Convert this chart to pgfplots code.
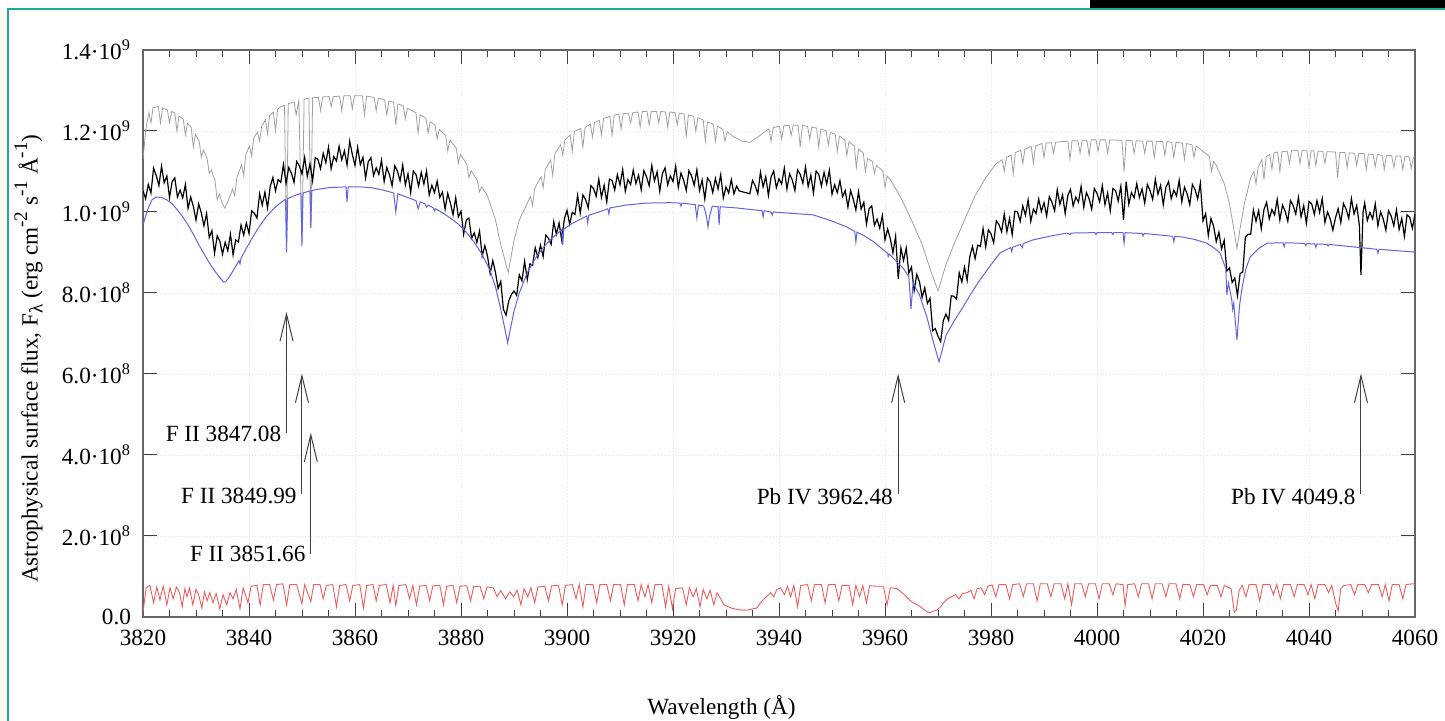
\documentclass[border=0pt]{standalone}
\usepackage{pgfplots}
\pgfplotsset{compat=1.18}
\usepackage{fontspec}
\setmainfont{Liberation Serif}
\usetikzlibrary{arrows.meta}
\definecolor{teal1}{RGB}{32,168,150}
\definecolor{cream}{RGB}{253,248,238}
\definecolor{modgray}{RGB}{160,160,160}
\definecolor{modblue}{RGB}{100,100,225}
\definecolor{modred}{RGB}{235,95,95}
\newcommand{\sups}[1]{\raisebox{0.45em}{\fontsize{9.6}{10}\selectfont #1}}
\newcommand{\subs}[1]{\raisebox{-0.22em}{\fontsize{9.6}{10}\selectfont #1}}
\begin{document}
\begin{tikzpicture}[font=\fontsize{11.6}{13.9}\selectfont]
\useasboundingbox (0,0) rectangle (722.5pt,360.5pt);
\fill[white] (0,0) rectangle (722.5pt,360.5pt);
\fill[cream] (0,0) rectangle (3.75pt,356pt);
\fill[black] (545pt,356.5pt) rectangle (722.5pt,360.5pt);
\draw[teal1, line width=0.8pt] (4pt,0) -- (4pt,356pt) -- (722.5pt,356pt);
\begin{axis}[
  at={(71.5pt,52pt)}, anchor=south west,
  width=636pt, height=283.5pt, scale only axis,
  xmin=3820, xmax=4060, ymin=0, ymax=14,
  xtick={3820,3840,...,4060},
  xticklabels={3820,3840,3860,3880,3900,3920,3940,3960,3980,4000,4020,4040,4060},
  minor x tick num=3,
  ytick={0,2,...,14},
  yticklabels={0.0,2.0·10\textsuperscript{8},4.0·10\textsuperscript{8},6.0·10\textsuperscript{8},8.0·10\textsuperscript{8},1.0·10\textsuperscript{9},1.2·10\textsuperscript{9},1.4·10\textsuperscript{9}},
  major tick length=7pt, minor tick length=3.5pt,
  tick style={black!75, line width=0.5pt},
  axis line style={black!60, line width=0.6pt},
  grid=major, major grid style={densely dotted, black!10},
  xticklabel style={yshift=-3pt},
  yticklabel style={xshift=-2.5pt},
  xlabel={Wavelength (Å)},
  xlabel style={at={(axis description cs:0.4548,-0.1728)}, anchor=base},
  ylabel={Astrophysical surface flux, F\subs{λ} (erg cm\sups{-2} s\sups{-1} Å\sups{-1})},
  ylabel style={at={(axis description cs:-0.0829,0.0476)}, anchor=base west},
  clip=true,
]
% red
\addplot[modred, line width=0.45pt] coordinates {
(3820,0.12)(3820.6,0.72)(3821.3,0.78)(3822.0,0.35)(3822.6,0.74)(3823.2,0.42)(3823.8,0.76)(3824.5,0.3)(3825.1,0.72)(3825.7,0.45)(3826.3,0.74)(3826.9,0.6)(3827.4,0.25)(3827.9,0.7)(3828.3,0.5)(3828.8,0.72)(3829.4,0.3)(3830.0,0.68)(3830.5,0.55)(3831.1,0.22)(3831.6,0.62)(3832.1,0.4)(3832.6,0.6)(3833.2,0.35)(3833.8,0.58)(3834.5,0.2)(3835.1,0.55)(3835.8,0.3)(3836.4,0.6)(3837.0,0.45)(3837.6,0.68)(3838.3,0.2)(3838.9,0.72)(3839.8,0.35)(3840.4,0.76)(3841.5,0.78)(3842.1,0.3)(3842.7,0.8)(3843.9,0.8)(3844.6,0.42)(3845.2,0.8)(3846.4,0.82)(3847.1,0.3)(3847.7,0.8)(3849.0,0.8)(3849.99,0.32)(3850.5,0.8)(3851.66,0.38)(3852.2,0.8)(3853.4,0.8)(3854.0,0.45)(3854.6,0.78)(3855.8,0.8)(3856.5,0.25)(3857.1,0.78)(3858.3,0.8)(3859.0,0.4)(3859.6,0.78)(3860.9,0.8)(3861.6,0.22)(3862.2,0.78)(3863.4,0.8)(3864.0,0.4)(3864.6,0.78)(3865.9,0.8)(3866.6,0.35)(3867.2,0.78)(3867.7,0.28)(3868.3,0.78)(3869.6,0.8)(3870.3,0.45)(3870.9,0.78)(3871.6,0.3)(3872.2,0.76)(3873.4,0.78)(3874.1,0.4)(3874.7,0.77)(3876.0,0.78)(3876.7,0.3)(3877.3,0.76)(3878.5,0.78)(3879.2,0.35)(3879.8,0.76)(3881.1,0.77)(3881.8,0.4)(3882.4,0.75)(3883.6,0.76)(3884.3,0.45)(3884.9,0.74)(3886.1,0.72)(3886.8,0.5)(3887.5,0.65)(3888.4,0.45)(3889.2,0.62)(3889.9,0.5)(3890.6,0.66)(3891.3,0.3)(3891.9,0.7)(3892.6,0.5)(3893.2,0.72)(3893.9,0.35)(3894.5,0.74)(3895.8,0.76)(3896.5,0.4)(3897.1,0.77)(3898.4,0.78)(3899.1,0.3)(3899.7,0.78)(3901.0,0.8)(3901.7,0.45)(3902.3,0.8)(3903.0,0.25)(3903.6,0.8)(3904.9,0.8)(3905.6,0.35)(3906.2,0.8)(3907.5,0.8)(3908.2,0.4)(3908.8,0.8)(3910.1,0.8)(3910.8,0.3)(3911.4,0.8)(3912.7,0.8)(3913.4,0.4)(3914.0,0.8)(3914.7,0.5)(3915.3,0.8)(3916.0,0.35)(3916.6,0.8)(3917.9,0.8)(3918.6,0.25)(3919.2,0.76)(3919.9,0.2)(3920.5,0.7)(3921.8,0.72)(3922.5,0.3)(3923.1,0.72)(3923.8,0.5)(3924.4,0.7)(3925.1,0.25)(3925.7,0.68)(3926.4,0.45)(3927.0,0.66)(3927.7,0.3)(3928.3,0.6)(3929.0,0.45)(3929.6,0.3)(3930.3,0.26)(3931.0,0.22)(3932.0,0.19)(3933.0,0.17)(3934.0,0.17)(3935.0,0.2)(3935.8,0.22)(3936.5,0.35)(3937.2,0.45)(3937.8,0.52)(3938.4,0.6)(3939.0,0.5)(3939.6,0.68)(3940.3,0.72)(3941.0,0.55)(3941.6,0.76)(3942.2,0.5)(3942.8,0.78)(3943.5,0.25)(3944.1,0.78)(3945.4,0.8)(3946.1,0.4)(3946.7,0.8)(3948.0,0.8)(3948.7,0.35)(3949.3,0.8)(3950.6,0.8)(3951.3,0.4)(3951.9,0.78)(3953.2,0.78)(3953.9,0.3)(3954.5,0.78)(3955.2,0.5)(3955.8,0.78)(3956.5,0.35)(3957.1,0.77)(3958.4,0.76)(3959.7,0.76)(3960.4,0.3)(3961.0,0.72)(3962.3,0.7)(3963.0,0.62)(3963.7,0.55)(3964.4,0.45)(3965.3,0.35)(3966.2,0.3)(3967.0,0.22)(3967.8,0.14)(3968.4,0.1)(3969.0,0.14)(3969.8,0.17)(3970.5,0.25)(3971.0,0.35)(3971.7,0.44)(3972.5,0.5)(3973.3,0.55)(3974.0,0.45)(3974.6,0.58)(3975.5,0.6)(3976.2,0.66)(3976.8,0.45)(3977.4,0.7)(3978.1,0.72)(3978.8,0.55)(3979.4,0.76)(3980.2,0.79)(3980.9,0.5)(3981.5,0.8)(3982.8,0.8)(3983.5,0.45)(3984.1,0.8)(3985.4,0.82)(3986.1,0.5)(3986.7,0.82)(3988.0,0.82)(3988.7,0.4)(3989.3,0.82)(3990.6,0.82)(3991.3,0.5)(3991.9,0.82)(3993.2,0.82)(3993.9,0.45)(3994.5,0.82)(3995.2,0.3)(3995.8,0.82)(3997.1,0.82)(3997.8,0.5)(3998.4,0.82)(3999.7,0.82)(4000.4,0.45)(4001.0,0.82)(4002.3,0.82)(4003.0,0.55)(4003.6,0.82)(4004.9,0.8)(4005.3,0.28)(4005.8,0.8)(4007.1,0.82)(4007.8,0.5)(4008.4,0.82)(4009.7,0.82)(4010.4,0.45)(4011.0,0.82)(4012.3,0.82)(4013.0,0.5)(4013.6,0.82)(4014.9,0.82)(4015.6,0.45)(4016.2,0.8)(4017.5,0.8)(4018.2,0.5)(4018.8,0.8)(4020.1,0.8)(4020.8,0.55)(4021.4,0.78)(4022.7,0.78)(4023.4,0.5)(4024.0,0.78)(4025.3,0.7)(4025.9,0.12)(4026.3,0.18)(4026.8,0.65)(4027.4,0.78)(4028.1,0.5)(4028.7,0.8)(4030.0,0.8)(4030.7,0.4)(4031.3,0.8)(4032.6,0.8)(4033.3,0.55)(4033.9,0.8)(4034.6,0.45)(4035.2,0.8)(4036.5,0.8)(4037.2,0.5)(4037.8,0.8)(4039.1,0.8)(4039.8,0.55)(4040.4,0.8)(4041.1,0.45)(4041.7,0.8)(4043.0,0.8)(4043.7,0.6)(4044.3,0.78)(4045.0,0.35)(4045.5,0.15)(4046.0,0.7)(4046.6,0.78)(4047.9,0.8)(4048.6,0.55)(4049.2,0.8)(4050.5,0.8)(4051.2,0.6)(4051.8,0.8)(4053.1,0.8)(4053.8,0.5)(4054.4,0.8)(4055.1,0.4)(4055.7,0.8)(4057.0,0.8)(4057.7,0.45)(4058.3,0.8)(4059.6,0.82)(4060,0.8)
};
% gray model
\addplot[modgray, line width=0.4pt] coordinates {
(3820,11.3)(3820.5,12.0)(3821.1,12.45)(3821.5,12.2)(3821.9,12.58)(3822.9,12.6)(3823.3,12.2)(3823.7,12.57)(3824.6,12.52)(3825.0,12.2)(3825.4,12.48)(3826.0,12.45)(3826.4,12.0)(3826.8,12.37)(3827.6,12.29)(3828.0,11.9)(3828.4,12.19)(3829.1,12.08)(3829.5,11.6)(3829.9,11.92)(3830.6,11.75)(3831.0,11.35)(3831.4,11.53)(3832.1,11.32)(3832.5,10.95)(3832.9,11.04)(3833.6,10.76)(3834.0,10.3)(3834.4,10.44)(3835.0,10.2)(3835.4,10.1)(3836.0,10.25)(3836.9,10.57)(3837.3,10.4)(3837.7,10.85)(3838.6,11.16)(3839.0,10.9)(3839.4,11.42)(3840.1,11.63)(3840.5,11.38)(3840.9,11.83)(3841.6,11.97)(3842.0,11.75)(3842.4,12.13)(3843.1,12.27)(3843.5,11.92)(3843.9,12.39)(3844.6,12.46)(3845.0,12.0)(3845.4,12.54)(3846.0,12.6)(3846.7,12.63)(3847.08,9.1)(3847.4,12.67)(3848.5,12.72)(3848.9,12.4)(3849.4,12.75)(3849.99,9.25)(3850.4,12.79)(3851.3,12.81)(3851.66,9.6)(3852.0,12.82)(3853.1,12.83)(3853.5,12.5)(3853.9,12.84)(3855.1,12.85)(3855.5,12.6)(3855.9,12.85)(3857.1,12.86)(3857.5,12.5)(3857.9,12.87)(3859.1,12.87)(3859.5,12.55)(3859.9,12.87)(3861.4,12.87)(3861.8,12.4)(3862.2,12.86)(3863.6,12.83)(3864.0,12.5)(3864.4,12.81)(3865.6,12.77)(3866.0,12.4)(3866.4,12.74)(3867.3,12.71)(3867.7,12.15)(3868.1,12.67)(3869.1,12.62)(3869.5,12.3)(3869.9,12.56)(3871.5,12.45)(3871.9,11.95)(3872.3,12.4)(3873.4,12.31)(3873.8,11.95)(3874.2,12.23)(3875.1,12.14)(3875.5,11.8)(3875.9,12.04)(3877.1,11.89)(3877.5,11.5)(3877.9,11.78)(3879.1,11.58)(3879.5,11.2)(3879.9,11.42)(3881.1,11.18)(3881.5,10.85)(3881.9,11.02)(3883.1,10.78)(3883.5,10.5)(3883.9,10.62)(3885,10.4)(3886.5,9.8)(3887.5,9.2)(3888.9,8.5)(3890,9.3)(3891,9.8)(3892,10.08)(3893.1,10.38)(3893.5,10.15)(3893.9,10.58)(3895.1,10.87)(3895.5,10.6)(3895.9,11.05)(3896.9,11.28)(3897.3,10.9)(3897.7,11.44)(3898.8,11.66)(3899.2,11.4)(3899.6,11.78)(3900.6,11.9)(3901.0,11.5)(3901.4,11.99)(3902.6,12.06)(3903.0,11.6)(3903.4,12.09)(3904.4,12.17)(3904.8,11.85)(3905.2,12.21)(3906.1,12.26)(3906.5,11.9)(3906.9,12.31)(3908.1,12.36)(3908.5,11.9)(3908.9,12.39)(3909.8,12.42)(3910.2,12.05)(3910.6,12.43)(3911.6,12.44)(3912.0,12.2)(3912.4,12.45)(3913.4,12.47)(3913.8,12.1)(3914.2,12.48)(3915.1,12.48)(3915.5,12.15)(3915.9,12.48)(3916.9,12.48)(3917.3,12.2)(3917.7,12.48)(3918.6,12.47)(3919.0,12.1)(3919.4,12.47)(3920.4,12.45)(3920.8,12.15)(3921.2,12.44)(3922.1,12.42)(3922.5,11.85)(3922.9,12.4)(3923.9,12.36)(3924.3,12.0)(3924.7,12.33)(3925.7,12.27)(3926.1,11.75)(3926.5,12.22)(3927.6,12.17)(3928.0,11.75)(3928.4,12.12)(3929.4,12.04)(3929.8,11.75)(3930.2,11.98)(3931.5,11.85)(3933,11.75)(3934.5,11.72)(3936,11.85)(3937.5,12.0)(3938.1,12.05)(3938.5,11.75)(3938.9,12.08)(3940.1,12.12)(3940.5,11.8)(3940.9,12.13)(3941.9,12.14)(3942.3,11.9)(3942.7,12.15)(3943.6,12.14)(3944.0,11.6)(3944.4,12.14)(3945.4,12.11)(3945.8,11.8)(3946.2,12.1)(3947.1,12.07)(3947.5,11.6)(3947.9,12.05)(3948.9,12.0)(3949.3,11.65)(3949.7,11.96)(3950.6,11.92)(3951.0,11.5)(3951.4,11.87)(3952.4,11.78)(3952.8,11.4)(3953.2,11.73)(3954.2,11.63)(3954.6,11.1)(3955.0,11.55)(3955.9,11.46)(3956.3,11.0)(3956.7,11.32)(3957.6,11.25)(3958.0,10.95)(3958.4,11.15)(3959.6,11.01)(3960.0,10.6)(3960.4,10.89)(3961,10.8)(3963,10.35)(3965,9.8)(3967,9.2)(3968.5,8.6)(3970,8.05)(3971.5,8.7)(3973,9.2)(3975,9.8)(3977,10.4)(3979,10.85)(3981,11.2)(3982.1,11.29)(3982.5,11.0)(3982.9,11.35)(3983.8,11.4)(3984.2,10.95)(3984.6,11.47)(3985.6,11.52)(3986.0,11.2)(3986.4,11.55)(3987.6,11.62)(3988.0,11.2)(3988.4,11.63)(3989.6,11.69)(3990.0,11.35)(3990.4,11.7)(3991.4,11.71)(3991.8,11.45)(3992.2,11.72)(3994.5,11.75)(3994.9,11.3)(3995.3,11.76)(3996.4,11.76)(3996.8,11.45)(3997.2,11.77)(3998.1,11.77)(3998.5,11.4)(3998.9,11.78)(3999.8,11.78)(4000.2,11.5)(4000.6,11.78)(4001.6,11.78)(4002.0,11.45)(4002.4,11.78)(4004.7,11.77)(4005.1,11.0)(4005.5,11.77)(4006.6,11.76)(4007.0,11.45)(4007.4,11.76)(4008.6,11.75)(4009.0,11.45)(4009.4,11.75)(4010.4,11.75)(4010.8,11.35)(4011.2,11.74)(4012.4,11.74)(4012.8,11.4)(4013.2,11.74)(4014.1,11.72)(4014.5,11.35)(4014.9,11.72)(4016.1,11.7)(4016.5,11.3)(4016.9,11.69)(4017.9,11.66)(4018.3,11.35)(4018.7,11.63)(4019,11.6)(4021.2,11.37)(4021.6,11.0)(4022.0,11.25)(4022.5,11.15)(4024,10.7)(4025,10.2)(4025.8,9.6)(4026.4,9.1)(4027,9.6)(4027.8,10.2)(4029,10.85)(4029.6,11.0)(4030.0,10.7)(4030.4,11.1)(4031.1,11.3)(4031.5,10.8)(4031.9,11.36)(4032.6,11.42)(4033.0,11.05)(4033.4,11.46)(4034.1,11.48)(4034.5,11.0)(4034.9,11.49)(4035.9,11.5)(4036.3,11.2)(4036.7,11.51)(4037.9,11.52)(4038.3,11.2)(4038.7,11.52)(4039.6,11.51)(4040.0,11.1)(4040.4,11.51)(4040.9,11.51)(4041.3,11.15)(4041.7,11.5)(4042.6,11.5)(4043.0,11.2)(4043.4,11.49)(4045.0,11.48)(4045.4,10.85)(4045.8,11.47)(4046.8,11.47)(4047.2,11.1)(4047.6,11.46)(4048.6,11.45)(4049.0,11.15)(4049.4,11.45)(4050.4,11.44)(4050.8,11.05)(4051.2,11.43)(4052.1,11.42)(4052.5,11.12)(4052.9,11.42)(4053.8,11.4)(4054.2,11.05)(4054.6,11.4)(4055.6,11.39)(4056.0,11.1)(4056.4,11.38)(4057.3,11.38)(4057.7,11.05)(4058.1,11.37)(4058.9,11.36)(4059.3,11.08)(4059.7,11.35)(4060,11.35)
};
% observed
\addplot[black, line width=0.6pt] coordinates {
(3820,10.52)(3820.5,10.33)(3821,10.68)(3821.5,10.47)(3822,11.08)(3822.5,10.90)(3823,10.65)(3823.5,11.13)(3824,10.72)(3824.5,10.89)(3825,10.36)(3825.5,10.75)(3826,10.84)(3826.5,10.37)(3827,10.54)(3827.5,10.35)(3828,10.68)(3828.5,10.09)(3829,10.37)(3829.5,10.14)(3830,9.80)(3830.5,10.20)(3831,9.98)(3831.5,9.66)(3832,9.96)(3832.5,9.37)(3833,9.54)(3833.5,8.98)(3834,9.41)(3834.5,9.28)(3835,8.96)(3835.5,9.25)(3836,9.04)(3836.5,9.45)(3837,8.94)(3837.5,9.31)(3838,9.26)(3838.5,9.68)(3839,9.43)(3839.5,9.73)(3840,9.47)(3840.5,10.03)(3841,9.97)(3841.5,9.85)(3842,10.45)(3842.5,10.17)(3843,10.49)(3843.5,10.10)(3844,10.63)(3844.5,10.85)(3845,10.52)(3845.5,10.80)(3846,10.73)(3846.5,11.17)(3847,10.71)(3847.5,11.10)(3848,10.96)(3848.5,10.73)(3849,11.25)(3849.5,11.14)(3850,10.94)(3850.5,11.35)(3851,10.88)(3851.5,11.19)(3852,10.77)(3852.5,11.34)(3853,11.30)(3853.5,11.07)(3854,11.45)(3854.5,11.22)(3855,11.60)(3855.5,11.07)(3856,11.37)(3856.5,11.26)(3857,11.62)(3857.5,11.29)(3858,11.51)(3858.5,11.16)(3859,11.75)(3859.5,11.42)(3860,11.15)(3860.5,11.60)(3861,11.17)(3861.5,11.35)(3862,10.84)(3862.5,11.24)(3863,11.34)(3863.5,10.90)(3864,11.09)(3864.5,10.93)(3865,11.28)(3865.5,10.75)(3866,11.10)(3866.5,10.92)(3867,10.65)(3867.5,11.14)(3868,11.01)(3868.5,10.77)(3869,11.16)(3869.5,10.67)(3870,10.94)(3870.5,10.48)(3871,11.01)(3871.5,10.93)(3872,10.64)(3872.5,10.98)(3873,10.69)(3873.5,11.01)(3874,10.42)(3874.5,10.66)(3875,10.48)(3875.5,10.76)(3876,10.36)(3876.5,10.49)(3877,10.07)(3877.5,10.46)(3878,10.22)(3878.5,9.93)(3879,10.35)(3879.5,9.88)(3880,10.02)(3880.5,9.45)(3881,9.80)(3881.5,9.85)(3882,9.35)(3882.5,9.48)(3883,9.25)(3883.5,9.53)(3884,8.91)(3884.5,9.17)(3885,8.91)(3885.5,8.48)(3886,8.80)(3886.5,8.51)(3887,8.11)(3887.5,8.29)(3888,7.60)(3888.5,7.45)(3889,7.80)(3889.5,7.96)(3890,8.05)(3890.5,7.94)(3891,8.45)(3891.5,8.30)(3892,8.78)(3892.5,8.33)(3893,8.72)(3893.5,8.68)(3894,9.12)(3894.5,8.88)(3895,9.18)(3895.5,8.90)(3896,9.43)(3896.5,9.35)(3897,9.20)(3897.5,9.76)(3898,9.45)(3898.5,9.73)(3899,9.31)(3899.5,9.83)(3900,10.04)(3900.5,9.70)(3901,9.99)(3901.5,9.94)(3902,10.41)(3902.5,9.97)(3903,10.42)(3903.5,10.31)(3904,10.10)(3904.5,10.65)(3905,10.58)(3905.5,10.39)(3906,10.81)(3906.5,10.36)(3907,10.66)(3907.5,10.25)(3908,10.81)(3908.5,10.78)(3909,10.54)(3909.5,10.92)(3910,10.67)(3910.5,11.05)(3911,10.51)(3911.5,10.80)(3912,10.68)(3912.5,11.03)(3913,10.70)(3913.5,10.91)(3914,10.55)(3914.5,11.02)(3915,10.87)(3915.5,10.65)(3916,11.15)(3916.5,10.77)(3917,10.99)(3917.5,10.51)(3918,10.95)(3918.5,11.09)(3919,10.67)(3919.5,10.89)(3920,10.75)(3920.5,11.13)(3921,10.61)(3921.5,10.96)(3922,10.79)(3922.5,10.53)(3923,11.02)(3923.5,10.89)(3924,10.66)(3924.5,11.04)(3925,10.53)(3925.5,10.79)(3926,10.32)(3926.5,10.84)(3927,10.75)(3927.5,10.48)(3928,10.83)(3928.5,10.57)(3929,10.92)(3929.5,10.35)(3930,10.62)(3930.5,10.47)(3931,10.80)(3931.5,10.45)(3932,10.64)(3932.5,10.52)(3934.5,10.45)(3935,10.78)(3935.5,10.65)(3936,10.45)(3936.5,10.98)(3937,10.62)(3937.5,10.87)(3938,10.41)(3938.5,10.86)(3939,11.01)(3939.5,10.60)(3940,10.82)(3940.5,10.69)(3941,11.08)(3941.5,10.57)(3942,10.94)(3942.5,10.79)(3943,10.53)(3943.5,11.04)(3944,10.93)(3944.5,10.71)(3945,11.11)(3945.5,10.63)(3946,10.91)(3946.5,10.47)(3947,11.01)(3947.5,10.93)(3948,10.64)(3948.5,10.98)(3949,10.69)(3949.5,11.03)(3950,10.44)(3950.5,10.67)(3951,10.48)(3951.5,10.77)(3952,10.38)(3952.5,10.53)(3953,10.12)(3953.5,10.53)(3954,10.32)(3954.5,10.05)(3955,10.50)(3955.5,10.07)(3956,10.24)(3956.5,9.70)(3957,10.08)(3957.5,10.15)(3958,9.67)(3958.5,9.82)(3959,9.60)(3959.5,9.91)(3960,9.31)(3960.5,9.58)(3961,9.34)(3961.5,8.99)(3962,9.40)(3962.5,8.35)(3963,9.11)(3963.5,8.80)(3964,9.11)(3964.5,8.49)(3965,8.64)(3965.5,8.06)(3966,8.46)(3966.5,8.28)(3967,7.89)(3967.5,8.13)(3968,7.74)(3968.5,7.87)(3969,7.07)(3969.5,7.12)(3970,6.93)(3970.5,6.80)(3971,7.32)(3971.5,7.48)(3972,7.32)(3972.5,7.93)(3973,7.92)(3973.5,7.85)(3974,8.50)(3974.5,8.27)(3975,8.64)(3975.5,8.31)(3976,8.90)(3976.5,9.15)(3977,8.85)(3977.5,9.18)(3978,9.15)(3978.5,9.59)(3979,9.14)(3979.5,9.56)(3980,9.46)(3980.5,9.24)(3981,9.78)(3981.5,9.69)(3982,9.51)(3982.5,9.95)(3983,9.51)(3983.5,9.84)(3984,9.44)(3984.5,10.02)(3985,10.00)(3985.5,9.77)(3986,10.15)(3986.5,9.92)(3987,10.30)(3987.5,9.77)(3988,10.07)(3988.5,9.96)(3989,10.32)(3989.5,10.01)(3990,10.23)(3990.5,9.90)(3991,10.38)(3991.5,10.24)(3992,10.03)(3992.5,10.55)(3993,10.19)(3993.5,10.42)(3994,9.96)(3994.5,10.41)(3995,10.56)(3995.5,10.15)(3996,10.37)(3996.5,10.24)(3997,10.63)(3997.5,10.12)(3998,10.48)(3998.5,10.33)(3999,10.07)(3999.5,10.58)(4000,10.46)(4000.5,10.25)(4001,10.65)(4001.5,10.18)(4002,10.47)(4002.5,10.03)(4003,10.58)(4003.5,10.53)(4004,10.27)(4004.5,10.64)(4005,9.80)(4005.5,10.75)(4006,10.19)(4006.5,10.48)(4007,10.35)(4007.5,10.70)(4008,10.36)(4008.5,10.57)(4009,10.22)(4009.5,10.68)(4010,10.53)(4010.5,10.31)(4011,10.81)(4011.5,10.44)(4012,10.66)(4012.5,10.18)(4013,10.61)(4013.5,10.75)(4014,10.33)(4014.5,10.54)(4015,10.40)(4015.5,10.78)(4016,10.25)(4016.5,10.61)(4017,10.45)(4017.5,10.18)(4018,10.68)(4018.5,10.55)(4019,10.32)(4019.5,10.71)(4020,9.78)(4020.5,9.96)(4021,9.42)(4021.5,9.84)(4022,9.65)(4022.5,9.27)(4023,9.50)(4023.5,9.09)(4024,9.30)(4024.5,8.54)(4025,8.62)(4025.5,8.26)(4026,8.37)(4026.5,7.93)(4027,8.48)(4027.5,8.52)(4028,9.38)(4028.5,9.45)(4029,9.45)(4029.5,10.05)(4030,9.77)(4030.5,10.03)(4031,9.59)(4031.5,10.06)(4032,10.24)(4032.5,9.83)(4033,10.06)(4033.5,9.93)(4034,10.31)(4034.5,9.80)(4035,10.17)(4035.5,10.02)(4036,9.77)(4036.5,10.28)(4037,10.16)(4037.5,9.95)(4038,10.36)(4038.5,9.88)(4039,10.16)(4039.5,9.72)(4040,10.26)(4040.5,10.20)(4041,9.94)(4041.5,10.28)(4042,9.99)(4042.5,10.33)(4043,9.74)(4043.5,10.00)(4044,9.83)(4044.5,9.55)(4045,9.86)(4045.5,10.08)(4046,9.74)(4046.5,10.21)(4047,10.07)(4047.5,9.84)(4048,10.33)(4048.5,9.95)(4049,10.16)(4049.5,9.67)(4049.8,8.45)(4050.2,10.0)(4050.5,10.22)(4051,9.79)(4051.5,9.99)(4052,9.83)(4052.5,10.20)(4053,9.66)(4053.5,10.00)(4054,9.83)(4054.5,9.55)(4055,10.03)(4055.5,9.90)(4056,9.66)(4056.5,10.05)(4057,9.57)(4057.5,9.84)(4058,9.40)(4058.5,9.93)(4059,9.87)(4059.5,9.60)(4060,9.95)
};
% blue model
\addplot[modblue, line width=0.5pt] coordinates {
(3820,9.68)(3820.5,9.9)(3821,10.1)(3821.7,10.3)(3822.5,10.37)(3823.5,10.36)(3824.5,10.3)(3825.5,10.2)(3826.5,10.05)(3827.5,9.88)(3828.5,9.68)(3829.5,9.45)(3830.5,9.2)(3831.5,8.97)(3832.5,8.75)(3833.5,8.55)(3834.5,8.38)(3835.2,8.27)(3835.6,8.28)(3836.3,8.4)(3837,8.55)(3838.1,8.8)(3838.3,8.72)(3838.5,8.86)(3839.5,9.1)(3840.5,9.33)(3841.5,9.55)(3842.5,9.75)(3843.5,9.92)(3844.5,10.06)(3845.5,10.18)(3846.5,10.28)(3846.9,10.31)(3847.08,9.0)(3847.3,10.33)(3848.5,10.4)(3849.8,10.46)(3849.99,9.16)(3850.2,10.47)(3851.5,10.52)(3851.66,9.6)(3851.85,10.53)(3853,10.56)(3855,10.6)(3858.3,10.62)(3858.5,10.25)(3858.7,10.62)(3861,10.62)(3863,10.6)(3865,10.55)(3867.3,10.47)(3867.7,10.0)(3868.1,10.45)(3869.5,10.38)(3871.5,10.28)(3871.9,10.08)(3872.3,10.25)(3873.2,10.2)(3873.5,10.12)(3873.8,10.17)(3874.8,10.1)(3875.0,10.03)(3875.2,10.08)(3876.5,9.98)(3878,9.85)(3879.5,9.7)(3881,9.5)(3882.5,9.25)(3884,8.95)(3885.5,8.55)(3886.5,8.15)(3887.5,7.6)(3888.3,7.1)(3888.8,6.77)(3889.3,7.1)(3890,7.55)(3891,8.0)(3892.5,8.5)(3894,8.85)(3895.5,9.12)(3897,9.33)(3898.5,9.5)(3899,9.56)(3899.2,9.19)(3899.4,9.58)(3901,9.72)(3903.7,9.9)(3903.9,9.73)(3904.1,9.92)(3906,10.0)(3907.7,10.08)(3907.9,9.95)(3908.1,10.1)(3911,10.17)(3915,10.22)(3919.5,10.23)(3921.3,10.22)(3921.5,10.15)(3921.7,10.22)(3924.2,10.18)(3924.5,9.85)(3924.8,10.17)(3925.8,10.15)(3926.3,9.9)(3926.6,9.63)(3926.9,9.9)(3927.4,10.14)(3928.5,10.13)(3928.7,9.68)(3928.9,10.13)(3932,10.1)(3936.8,10.03)(3937,9.88)(3937.2,10.03)(3938.5,10.0)(3938.7,9.92)(3938.9,10.0)(3942,9.97)(3946.4,9.93)(3949.5,9.8)(3952.8,9.63)(3954.3,9.52)(3954.5,9.26)(3954.7,9.5)(3956,9.42)(3958,9.25)(3959,9.14)(3960.5,8.98)(3960.6,8.9)(3960.8,8.96)(3962,8.8)(3963.5,8.6)(3964.5,8.4)(3964.9,7.6)(3965.3,8.25)(3966.5,7.95)(3967.9,7.41)(3969,6.85)(3970.2,6.3)(3971.5,6.95)(3973,7.3)(3974.7,7.65)(3976.3,8.0)(3977.9,8.32)(3980,8.7)(3981.7,8.99)(3983.7,9.12)(3983.9,9.02)(3984.1,9.13)(3985.5,9.2)(3985.9,9.12)(3986.1,9.22)(3987.9,9.31)(3991,9.4)(3994.3,9.48)(3994.9,9.44)(3995.1,9.48)(3999.6,9.49)(3999.8,9.44)(4000,9.49)(4002.8,9.49)(4003,9.44)(4003.2,9.49)(4004.9,9.49)(4005.1,9.23)(4005.3,9.49)(4006.8,9.48)(4008.5,9.47)(4008.7,9.41)(4008.9,9.47)(4014.3,9.4)(4014.5,9.27)(4014.7,9.4)(4016.2,9.38)(4018.5,9.32)(4020.7,9.23)(4022,9.12)(4023.2,8.99)(4024.3,8.6)(4024.5,7.95)(4024.8,8.25)(4025.4,7.85)(4025.6,7.6)(4025.8,7.75)(4026.4,6.84)(4026.9,7.7)(4027.4,8.15)(4028.1,8.6)(4028.9,8.89)(4030.5,9.1)(4032.1,9.23)(4035.1,9.24)(4035.3,9.14)(4035.5,9.24)(4038.3,9.23)(4039.2,9.22)(4039.4,9.17)(4039.6,9.22)(4041.1,9.21)(4041.3,9.13)(4041.5,9.21)(4043.4,9.2)(4043.6,9.16)(4043.8,9.2)(4044.5,9.19)(4052.8,9.08)(4053,8.98)(4053.2,9.08)(4056,9.05)(4060,9.01)
};
% annotations
\tikzset{linearrow/.style={-{Straight Barb[length=13.5pt,width=6.5pt]}, black!75, line width=0.5pt}}
\draw[linearrow] (axis cs:3847.08,4.55) -- (axis cs:3847.08,7.53);
\draw[linearrow] (axis cs:3849.99,3.04) -- (axis cs:3849.99,6.01);
\draw[linearrow] (axis cs:3851.66,1.56) -- (axis cs:3851.66,4.55);
\draw[linearrow] (axis cs:3962.48,3.04) -- (axis cs:3962.48,6.01);
\draw[linearrow] (axis cs:4049.8,3.04) -- (axis cs:4049.8,6.01);
\node[anchor=east, inner sep=0pt, xshift=-2.5pt] at (axis cs:3847.08,4.52) {F II 3847.08};
\node[anchor=east, inner sep=0pt, xshift=-2.5pt] at (axis cs:3849.99,2.98) {F II 3849.99};
\node[anchor=east, inner sep=0pt, xshift=-2.5pt] at (axis cs:3851.66,1.55) {F II 3851.66};
\node[anchor=east, inner sep=0pt, xshift=-2.5pt] at (axis cs:3962.48,2.98) {Pb IV 3962.48};
\node[anchor=east, inner sep=0pt, xshift=-2.5pt] at (axis cs:4049.8,2.98) {Pb IV 4049.8};
\end{axis}
\end{tikzpicture}
\end{document}
